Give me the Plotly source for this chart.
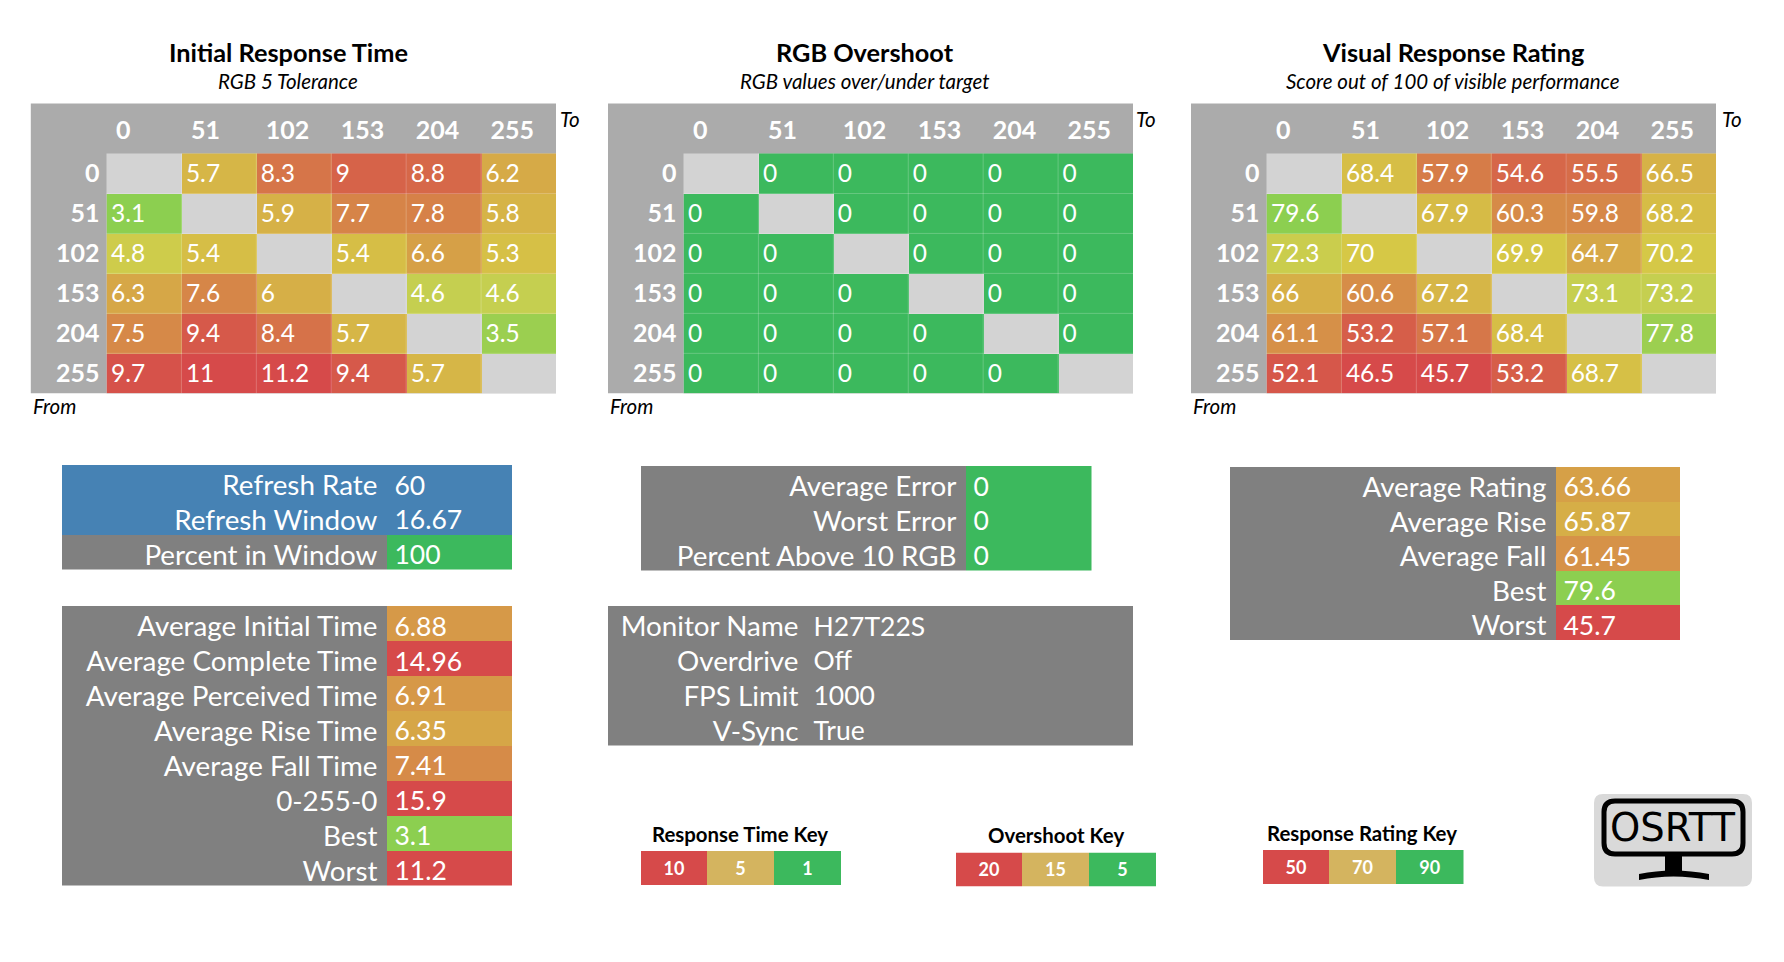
import plotly.graph_objects as go

W = 1784
H = 962

# gray to white numbers in the three grids
levels = ["0", "51", "102", "153", "204", "255"]

initial_response = [
    [None, 5.7, 8.3, 9, 8.8, 6.2],
    [3.1, None, 5.9, 7.7, 7.8, 5.8],
    [4.8, 5.4, None, 5.4, 6.6, 5.3],
    [6.3, 7.6, 6, None, 4.6, 4.6],
    [7.5, 9.4, 8.4, 5.7, None, 3.5],
    [9.7, 11, 11.2, 9.4, 5.7, None],
]
rgb_overshoot = [
    [None, 0, 0, 0, 0, 0],
    [0, None, 0, 0, 0, 0],
    [0, 0, None, 0, 0, 0],
    [0, 0, 0, None, 0, 0],
    [0, 0, 0, 0, None, 0],
    [0, 0, 0, 0, 0, None],
]
visual_rating = [
    [None, 68.4, 57.9, 54.6, 55.5, 66.5],
    [79.6, None, 67.9, 60.3, 59.8, 68.2],
    [72.3, 70, None, 69.9, 64.7, 70.2],
    [66, 60.6, 67.2, None, 73.1, 73.2],
    [61.1, 53.2, 57.1, 68.4, None, 77.8],
    [52.1, 46.5, 45.7, 53.2, 68.7, None],
]

refresh_labels = ["Refresh Rate", "Refresh Window", "Percent in Window"]
refresh_values = ["60", "16.67", "100"]
refresh_z = [None, None, 100]

time_labels = ["Average Initial Time", "Average Complete Time", "Average Perceived Time",
               "Average Rise Time", "Average Fall Time", "0-255-0", "Best", "Worst"]
time_values = [6.88, 14.96, 6.91, 6.35, 7.41, 15.9, 3.1, 11.2]

error_labels = ["Average Error", "Worst Error", "Percent Above 10 RGB"]
error_values = [0, 0, 0]

monitor_labels = ["Monitor Name", "Overdrive", "FPS Limit", "V-Sync"]
monitor_values = ["H27T22S", "Off", "1000", "True"]

rating_labels = ["Average Rating", "Average Rise", "Average Fall", "Best", "Worst"]
rating_values = [63.66, 65.87, 61.45, 79.6, 45.7]

time_key = ["10", "5", "1"]
overshoot_key = ["20", "15", "5"]
rating_key = ["50", "70", "90"]

RED = "#D64A4A"
YELLOW = "#D6C846"
LIME = "#C5CF50"
LEAF = "#8CCF50"
GREEN = "#3CB95D"
TAN = "#D4B45F"
DARK = "#808080"
BAND = "#ABABAB"
DIAG = "#D3D3D3"
BLUE = "#4682B4"
FONT = "Lato"

time_scale = dict(colorscale=[[0, GREEN], [2.1 / 9, LEAF], [3.6 / 9, LIME], [4 / 9, YELLOW], [1, RED]], zmin=1, zmax=10)
over_scale = dict(colorscale=[[0, GREEN], [0.25, GREEN], [0.75, YELLOW], [1, RED]], zmin=0, zmax=20)
rate_scale = dict(colorscale=[[0, RED], [0.5, YELLOW], [0.58, LIME], [0.74, LEAF], [1, GREEN]], zmin=50, zmax=90)
solid_green = dict(colorscale=[[0, GREEN], [1, GREEN]], zmin=0, zmax=100)
key_scale = dict(colorscale=[[0, RED], [0.5, TAN], [1, GREEN]], zmin=0, zmax=2)

fig = go.Figure()
shapes = []
annotations = []
axis_count = 1


def rect(x0, y0, x1, y1, color):
    shapes.append(dict(type="rect", xref="x", yref="y", x0=x0, y0=y0, x1=x1, y1=y1,
                       fillcolor=color, line_width=0, layer="below"))


def line(x0, y0, x1, y1):
    shapes.append(dict(type="line", xref="x", yref="y", x0=x0, y0=y0, x1=x1, y1=y1,
                       line=dict(color="rgba(255,255,255,0.22)", width=1), layer="above"))


def label(x, y, text, size, bold=False, italic=False, color="black", xanchor="center", family=FONT):
    if bold:
        text = "<b>" + text + "</b>"
    if italic:
        text = "<i>" + text + "</i>"
    annotations.append(dict(xref="x", yref="y", x=x, y=y, text=text, showarrow=False, xanchor=xanchor,
                            yanchor="middle", font=dict(family=family, size=size, color=color)))


def new_axes(left, top, right, bottom, xrange, yrange, ticktext=None, tick_size=27.8, standoff=3, tick_bold=False, tick_shift=0):
    global axis_count
    axis_count += 1
    n = axis_count
    hidden = dict(showgrid=False, zeroline=False, showline=False, fixedrange=True)
    xaxis = dict(domain=[left / W, right / W], range=xrange, anchor="y%d" % n, showticklabels=False, ticks="", **hidden)
    yaxis = dict(domain=[1 - bottom / H, 1 - top / H], range=yrange, anchor="x%d" % n, **hidden)
    if ticktext:
        if tick_bold:
            ticktext = ["<b>%s</b>" % t for t in ticktext]
        yaxis.update(tickmode="array", tickvals=[r + tick_shift for r in range(len(ticktext))], ticktext=ticktext,
                     ticks="outside", ticklen=standoff, tickcolor="rgba(0,0,0,0)",
                     tickfont=dict(family=FONT, size=tick_size, color="white"))
    else:
        yaxis.update(showticklabels=False, ticks="")
    fig.update_layout({"xaxis%d" % n: xaxis, "yaxis%d" % n: yaxis})
    return "x%d" % n, "y%d" % n


def add_text(xa, ya, xs, ys, texts, size, bold=False, position="middle right"):
    if bold:
        texts = ["<b>%s</b>" % t for t in texts]
    fig.add_trace(go.Scatter(x=xs, y=ys, text=texts, mode="text", textposition=position, xaxis=xa, yaxis=ya,
                             cliponaxis=False, hoverinfo="skip",
                             textfont=dict(family=FONT, size=size, color="white")))


def add_grid(values, left, cell_left, right, scale, title, subtitle, title_x, to_x):
    top = 103.5
    cells_top = 153.5
    bottom = 393.3
    row_h = (bottom - cells_top) / 6
    col_w = (right - cell_left) / 6
    rect(left, top, right, bottom, BAND)
    rect(cell_left, cells_top, right, bottom, DIAG)
    xa, ya = new_axes(cell_left, top, right, bottom, [-0.5, 5.5], [5.5, -0.5 - (cells_top - top) / row_h],
                      ticktext=levels, tick_size=25, standoff=1, tick_bold=True)
    fig.add_trace(go.Heatmap(z=values, x=list(range(6)), y=list(range(6)), showscale=False,
                             hoverinfo="skip", xaxis=xa, yaxis=ya, **scale))
    # faint lines between cells
    for i in range(1, 6):
        line(cell_left + i * col_w, cells_top, cell_left + i * col_w, bottom)
        line(cell_left, cells_top + i * row_h, right, cells_top + i * row_h)
    # cell numbers sit at the left edge of each cell
    xs, ys, texts = [], [], []
    for r, row in enumerate(values):
        for c, v in enumerate(row):
            if v is not None:
                xs.append(c - 0.5 + 4.5 / col_w)
                ys.append(r + 2.5 / row_h)
                texts.append(str(v))
    add_text(xa, ya, xs, ys, texts, 24.5)
    add_text(xa, ya, [c - 0.5 + 9.5 / col_w for c in range(6)], [-0.5 - 21 / row_h] * 6, levels, 25, bold=True)
    label(title_x, 52, title, 25.3, bold=True)
    label(title_x, 81, subtitle, 20.5, italic=True)
    label(to_x, 119, "To", 20.5, italic=True)
    label(left, 406, "From", 20.5, italic=True, xanchor="left")


def add_stats(labels, texts, z, left, split, right, top, bottom, scale=None, standoff=3):
    rows = len(labels)
    row_h = (bottom - top) / rows
    xa, ya = new_axes(split, top, right, bottom, [0, 1], [rows - 0.5, -0.5], ticktext=labels, standoff=standoff,
                      tick_shift=3 / row_h)
    if z is not None:
        fig.add_trace(go.Heatmap(z=[[v] for v in z], x=[0.5], y=list(range(rows)), showscale=False,
                                 hoverinfo="skip", xaxis=xa, yaxis=ya, **scale))
    add_text(xa, ya, [7.5 / (right - split)] * rows, [r + 5.5 / row_h for r in range(rows)], texts, 26.5)


def add_key(values, x0, x1, x2, x3, top, bottom, title, title_x, title_y):
    xa, ya = new_axes(x0, top, x3, bottom, [x0, x3], [0.5, -0.5])
    mids = [(x0 + x1) / 2, (x1 + x2) / 2, (x2 + x3) / 2]
    edges = [x0, x1, x2, x3]
    fig.add_trace(go.Heatmap(z=[[0, 1, 2]], x=edges, y=[-0.5, 0.5], showscale=False, hoverinfo="skip",
                             xaxis=xa, yaxis=ya, **key_scale))
    add_text(xa, ya, mids, [0.06, 0.06, 0.06], values, 18, bold=True, position="middle center")
    label(title_x, title_y, title, 20.4, bold=True)


def rounded(x0, y0, x1, y1, r):
    return ("M %g %g L %g %g Q %g %g %g %g L %g %g Q %g %g %g %g L %g %g Q %g %g %g %g L %g %g Q %g %g %g %g Z"
            % (x0 + r, y0, x1 - r, y0, x1, y0, x1, y0 + r, x1, y1 - r, x1, y1, x1 - r, y1,
               x0 + r, y1, x0, y1, x0, y1 - r, x0, y0 + r, x0, y0, x0 + r, y0))


def add_logo():
    shapes.append(dict(type="path", xref="x", yref="y", path=rounded(1594, 794, 1752, 886.5, 9),
                       fillcolor="#D9D9D9", line_width=0, layer="below"))
    shapes.append(dict(type="path", xref="x", yref="y", path=rounded(1604, 801, 1743, 854, 11),
                       fillcolor="rgba(0,0,0,0)", line=dict(color="black", width=5), layer="above"))
    shapes.append(dict(type="rect", xref="x", yref="y", x0=1665, y0=856, x1=1682, y1=873,
                       fillcolor="black", line_width=0, layer="above"))
    shapes.append(dict(type="path", xref="x", yref="y", path="M 1639 874 Q 1673 867 1709 874 L 1709 880 Q 1673 873 1639 880 Z",
                       fillcolor="black", line_width=0, layer="above"))
    label(1673, 827, "OSRTT", 38.5, family="DejaVu Sans")


add_grid(initial_response, 30.8, 106.5, 556, time_scale, "Initial Response Time", "RGB 5 Tolerance", 288, 570)
add_grid(rgb_overshoot, 608, 683.5, 1133, over_scale, "RGB Overshoot", "RGB values over/under target", 865, 1146)
add_grid(visual_rating, 1191, 1266.5, 1716, rate_scale, "Visual Response Rating", "Score out of 100 of visible performance", 1453, 1732)

rect(62, 465, 512, 535, BLUE)
rect(62, 535, 387, 569.5, DARK)
add_stats(refresh_labels, refresh_values, refresh_z, 62, 387, 512, 465, 569.5, solid_green)

rect(62, 606, 387, 885.5, DARK)
add_stats(time_labels, [str(v) for v in time_values], time_values, 62, 387, 512, 606, 885.5, time_scale)

rect(641, 466, 966, 570.5, DARK)
add_stats(error_labels, [str(v) for v in error_values], error_values, 641, 966, 1091.5, 466, 570.5, over_scale)

rect(608, 606, 1133, 745.5, DARK)
add_stats(monitor_labels, monitor_values, None, 608, 806, 1133, 606, 745.5, standoff=1)

rect(1230, 467, 1556, 640, DARK)
add_stats(rating_labels, [str(v) for v in rating_values], rating_values, 1230, 1556, 1680, 467, 640, rate_scale)

add_key(time_key, 641, 707, 774, 841, 851, 885, "Response Time Key", 740, 834)
add_key(overshoot_key, 956, 1022, 1089, 1156, 852.5, 886.5, "Overshoot Key", 1056, 835)
add_key(rating_key, 1263, 1329, 1396, 1463.5, 850, 884, "Response Rating Key", 1362, 833)

add_logo()

fig.update_layout(
    width=W,
    height=H,
    margin=dict(l=0, r=0, t=0, b=0),
    paper_bgcolor="white",
    plot_bgcolor="rgba(0,0,0,0)",
    showlegend=False,
    xaxis=dict(domain=[0, 1], range=[0, W], visible=False, fixedrange=True),
    yaxis=dict(domain=[0, 1], range=[H, 0], visible=False, fixedrange=True),
    shapes=shapes,
    annotations=annotations,
)
# base axes need something on them so they get drawn
fig.add_trace(go.Scatter(x=[0], y=[0], mode="markers", marker=dict(opacity=0), hoverinfo="skip"))

fig.write_html("out.html", post_script="document.body.style.margin='0';", config={"displayModeBar": False})
